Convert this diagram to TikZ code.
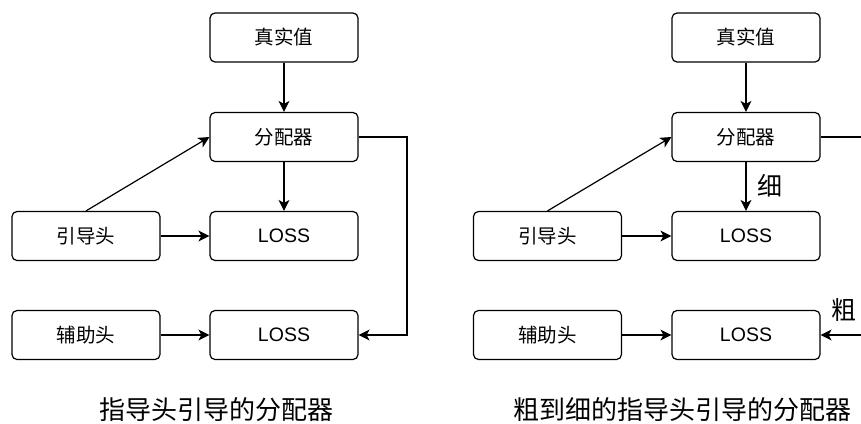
\documentclass[tikz,border=0pt]{standalone}
\usepackage{fontspec}
\setmainfont{Liberation Sans}
\newfontfamily\cjk{Noto Sans CJK SC}
\usetikzlibrary{arrows.meta}
\tikzset{
  basebox/.style={draw=black, line width=1.2pt, rounded corners=5pt,
    minimum width=148pt, minimum height=49pt, inner sep=0pt},
  cjkbox/.style={basebox, font=\cjk\fontsize{19.5}{20}\selectfont},
  lossbox/.style={basebox, font=\fontsize{19.5}{20}\selectfont},
  conn/.style={line width=1.2pt, draw=black,
    -{Stealth[length=11pt,width=11pt,inset=3pt]}},
  plainline/.style={line width=1.2pt, draw=black},
  caption/.style={font=\cjk\fontsize{26}{28}\selectfont, inner sep=0pt},
  edgelabel/.style={font=\cjk\fontsize{25}{27}\selectfont, inner sep=0pt}
}
\begin{document}
\begin{tikzpicture}[x=1pt,y=-1pt]
\useasboundingbox (0,0) rectangle (861,423);
% ---------- left panel ----------
\node[cjkbox]  (tvA)  at (284,37.5) {真实值};
\node[cjkbox]  (fpA)  at (284,137)  {分配器};
\node[lossbox] (l1A)  at (284,236)  {LOSS};
\node[cjkbox]  (ghA)  at (86,236)   {引导头};
\node[lossbox] (l2A)  at (284,335)  {LOSS};
\node[cjkbox]  (ahA)  at (86,335)   {辅助头};
\coordinate (c1A) at (407,137);
\coordinate (c2A) at (407,335);
\draw[conn] (tvA) -- (fpA);
\draw[conn] (fpA) -- (l1A);
\draw[conn] (ghA) -- (l1A);
\draw[conn] (ahA) -- (l2A);
\draw[conn] (ghA.north) -- (fpA.west);
\draw[conn] (fpA.east) -- (c1A) -- (c2A) -- (l2A.east);
\node[caption] (capA) at (216.5,410) {指导头引导的分配器};
% ---------- right panel ----------
\node[cjkbox]  (tvB)  at (746,37.5) {真实值};
\node[cjkbox]  (fpB)  at (746,137)  {分配器};
\node[lossbox] (l1B)  at (746,236)  {LOSS};
\node[cjkbox]  (ghB)  at (547.5,236) {引导头};
\node[lossbox] (l2B)  at (746,335)  {LOSS};
\node[cjkbox]  (ahB)  at (547.5,335) {辅助头};
\coordinate (c1B) at (861,137);
\coordinate (c2B) at (861,335);
\draw[conn] (tvB) -- (fpB);
\draw[conn] (fpB) -- (l1B);
\draw[conn] (ghB) -- (l1B);
\draw[conn] (ahB) -- (l2B);
\draw[conn] (ghB.north) -- (fpB.west);
\draw[plainline] (fpB.east) -- (c1B);
\draw[conn] (c2B) -- (l2B.east);
\node[edgelabel] (fine)   at (770,186) {细};
\node[edgelabel] (coarse) at (843.5,310) {粗};
\node[caption] (capB) at (682,410) {粗到细的指导头引导的分配器};
\end{tikzpicture}
\end{document}
